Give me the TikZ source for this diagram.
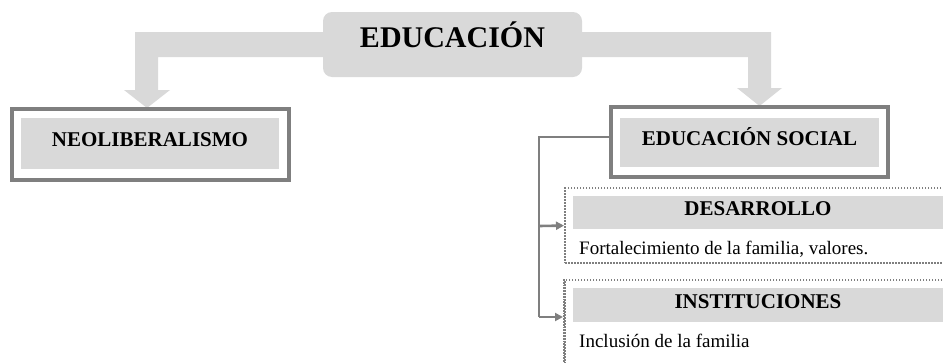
\documentclass[tikz,border=0pt]{standalone}
\usepackage{fontspec}
\setmainfont{Liberation Serif}
\usetikzlibrary{arrows.meta}
\definecolor{boxgray}{HTML}{D9D9D9}
\definecolor{linegray}{HTML}{7F7F7F}
\begin{document}
\begin{tikzpicture}[x=1pt,y=-1pt,
  outerbox/.style={draw=linegray,line width=3.4pt,fill=white,minimum width=#1,inner sep=0pt},
  fillbox/.style={fill=boxgray,inner sep=0pt,text height=0.662em,text depth=0pt,font=\fontsize{21}{24}\selectfont\bfseries},
  dotbox/.style={draw=linegray,line width=2.2pt,dash pattern=on 1.5pt off 1.5pt,inner sep=0pt},
  bodytext/.style={anchor=base west,inner sep=0pt,font=\fontsize{19}{23}\selectfont},
  conn/.style={draw=linegray,line width=2.6pt},
  connarrow/.style={conn,-{Triangle[length=8pt,width=8pt]}},
  blockarrow/.style={fill=boxgray,draw=none}
]
\useasboundingbox (0,0) rectangle (943,362);
% block arrows
\fill[blockarrow] (330,32) -- (135,32) -- (135,90) -- (124,90) -- (147,108) -- (170,90) -- (158,90) -- (158,57) -- (330,57) -- cycle;
\fill[blockarrow] (575,32) -- (771,32) -- (771,88) -- (782,88) -- (759.5,106) -- (737,88) -- (748,88) -- (748,57) -- (575,57) -- cycle;
% title
\node[fill=boxgray,rounded corners=9pt,minimum width=259pt,minimum height=65pt,inner sep=0pt,
      text height=0.662em,text depth=0pt,font=\fontsize{30}{36}\selectfont\bfseries] (edu) at (452.5,44.5) {EDUCACIÓN};
% neoliberalismo
\node[outerbox=277pt,minimum height=71pt] (neo) at (150.5,144.5) {};
\node[fillbox,minimum width=258pt,minimum height=51pt] (neoin) at (150,143.5) {NEOLIBERALISMO};
% educacion social
\node[outerbox=277pt,minimum height=70pt] (es) at (749.5,142) {};
\node[fillbox,minimum width=259pt,minimum height=49pt] (esin) at (749.5,142.5) {EDUCACIÓN SOCIAL};
% dotted boxes
\node[dotbox,minimum width=386pt,minimum height=75pt,anchor=north west] (d1) at (564,187) {};
\node[fillbox,minimum width=372pt,minimum height=33pt,anchor=north west] (d1h) at (573,196) {};
\node[fillbox] at (758,212.5) {DESARROLLO};
\node[bodytext] (d1t) at (579,254) {Fortalecimiento de la familia, valores.};
\node[dotbox,minimum width=386pt,minimum height=100pt,anchor=north west] (d2) at (564,279) {};
\draw[draw=linegray,line width=2.6pt,dash pattern=on 1.8pt off 1pt] (d2.north west) -- (d2.south west);
\node[fillbox,minimum width=372pt,minimum height=34pt,anchor=north west] (d2h) at (573,288) {};
\node[fillbox] at (758,305) {INSTITUCIONES};
\node[bodytext] (d2t) at (579,347) {Inclusión de la familia};
% connectors
\coordinate (bend) at (539,137);
\coordinate (c1) at (539,226);
\coordinate (c2) at (539,317);
\coordinate (t2) at (563,317);
\draw[conn] ([yshift=5pt]es.west) -- (bend) -- (c2);
\draw[connarrow] (c2) -- (t2);
\draw[connarrow] (c1) -- (d1.west);
\end{tikzpicture}
\end{document}
